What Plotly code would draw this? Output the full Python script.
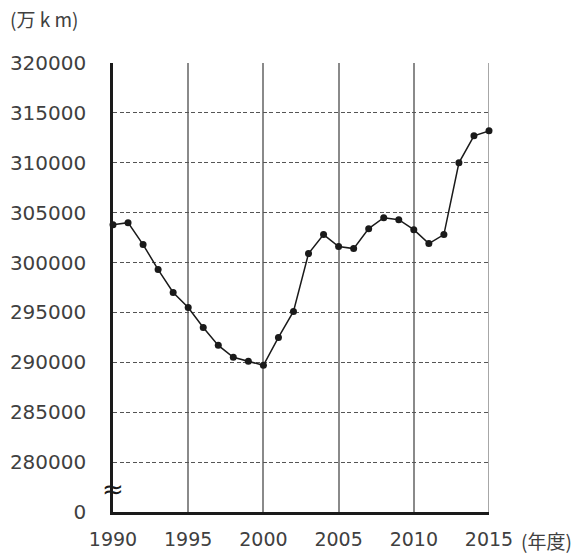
import plotly.graph_objects as go

years = list(range(1990, 2016))
values = [303800, 304000, 301800, 299300, 297000, 295500, 293500, 291700, 290500, 290100,
          289700, 292500, 295100, 300900, 302800, 301600, 301400, 303400, 304500, 304300,
          303300, 301900, 302800, 310000, 312700, 313200]

y_tickvals = [275000, 280000, 285000, 290000, 295000, 300000, 305000, 310000, 315000, 320000]
y_ticktext = ["0", "280000", "285000", "290000", "295000", "300000", "305000", "310000", "315000", "320000"]
x_tickvals = [1990, 1995, 2000, 2005, 2010, 2015]
x_ticktext = ["1990", "1995", "2000", "2005", "2010", "2015"]

font = "DejaVu Sans"
cjk = "Noto Sans CJK JP"
txt = "#404040"

fig = go.Figure()
fig.add_trace(go.Scatter(
    x=years, y=values, mode="lines+markers",
    line=dict(color="#1a1a1a", width=1.5),
    marker=dict(color="#1a1a1a", size=7),
    cliponaxis=False,
    showlegend=False, hoverinfo="skip",
))

fig.update_layout(
    width=578, height=557,
    margin=dict(l=113, r=89, t=63, b=45, autoexpand=False),
    paper_bgcolor="white", plot_bgcolor="white",
    xaxis=dict(
        range=[1990, 2015], tickvals=x_tickvals, ticktext=x_ticktext,
        showgrid=True, gridcolor="#8a8a8a", gridwidth=1.5,
        showline=True, linecolor="#1a1a1a", linewidth=2.5,
        ticks="", ticklabelstandoff=8, automargin=False,
        tickfont=dict(family=font, size=19, color=txt),
        zeroline=False, fixedrange=True,
    ),
    yaxis=dict(
        range=[275000, 320000], tickvals=y_tickvals, ticktext=y_ticktext,
        showgrid=True, gridcolor="#555555", gridwidth=1, griddash="4px,2.5px",
        showline=True, linecolor="#1a1a1a", linewidth=2.5,
        ticks="", ticklabelstandoff=20, automargin=False,
        tickfont=dict(family=font, size=20, color=txt),
        zeroline=False, fixedrange=True,
    ),
    shapes=[dict(type="line", xref="x", yref="paper", x0=2015, x1=2015, y0=0, y1=1,
                 line=dict(color="#8a8a8a", width=1.5), layer="below")],
    annotations=[
        dict(text="(万 k m)", xref="paper", yref="paper", x=-105/376, y=1 + 45/449,
             xanchor="left", yanchor="middle", showarrow=False,
             font=dict(family=cjk, size=19, color=txt)),
        dict(text="(年度)", xref="paper", yref="paper", x=1 + 30/376, y=-28/449,
             xanchor="left", yanchor="middle", showarrow=False,
             font=dict(family=cjk, size=19, color=txt)),
        dict(text="≈", xref="paper", yref="y", x=0, y=277300,
             xanchor="center", yanchor="middle", showarrow=False,
             font=dict(family=font, size=26, color="#1a1a1a")),
    ],
)

fig.write_html("out.html", config={"displayModeBar": False},
               post_script="document.body.style.margin='0';")
